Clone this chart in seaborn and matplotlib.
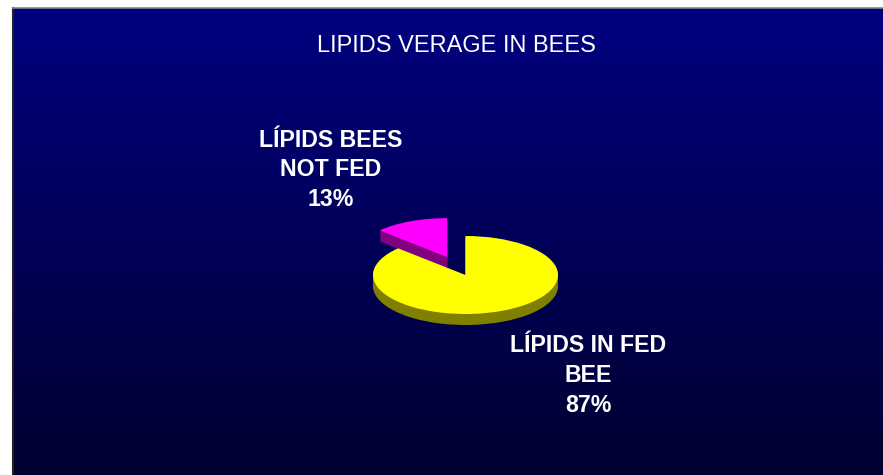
import numpy as np
import seaborn as sns
from matplotlib import pyplot as plt

sns.set_style("white")
plt.rcParams['font.family'] = ['Liberation Sans', 'DejaVu Sans']

W, H = 883, 475

title = "LIPIDS VERAGE IN BEES"
labels = ["LÍPIDS IN FED\nBEE", "LÍPIDS BEES\nNOT FED"]
values = [87, 13]
explode = [0, 0.5]
top_colors = ["#FFFF00", "#FF00FF"]
side_colors = ["#808000", "#800080"]

# pie geometry in pixels
cx, cy = 465.5, 275
rx, ry = 92.5, 39
depth = 11

fig = plt.figure(figsize=(W / 100, H / 100), dpi=100, facecolor="white")

# gradient panel
bg = fig.add_axes([13 / W, 0, (W - 13) / W, (H - 8) / H])
cmap = sns.blend_palette(["#000080", "#000030"], as_cmap=True)
bg.imshow(np.linspace(0, 1, 256).reshape(-1, 1), aspect="auto", cmap=cmap)
bg.set_xticks([])
bg.set_yticks([])
bg.spines["right"].set_visible(False)
bg.spines["bottom"].set_visible(False)
bg.spines["left"].set_color("#222222")
bg.spines["top"].set_color("#888888")
bg.spines["left"].set_linewidth(1.5)
bg.spines["top"].set_linewidth(1.2)

# pie axes: one data unit is rx across and ry down, so circles come out flat
ax = fig.add_axes([0, 0, 1, 1])
ax.patch.set_alpha(0)


def draw_layer(y_px, colors):
    ax.pie(values, explode=explode, colors=colors, startangle=90, counterclock=False,
           center=(cx / rx, (H - y_px) / ry), radius=1, wedgeprops={"linewidth": 0}, frame=True)


for d in range(depth, 0, -1):
    draw_layer(cy + d, side_colors)
draw_layer(cy, top_colors)

ax.set_aspect("auto")
ax.set_xlim(0, W / rx)
ax.set_ylim(0, H / ry)
ax.axis("off")

fig.text(456.5 / W, 1 - 46.5 / H, title, color="white", fontsize=17, ha="center", va="center")

total = sum(values)
text_pos = [(588, 375.5), (331, 170)]
for label, value, (tx, ty) in zip(labels, values, text_pos):
    fig.text(tx / W, 1 - ty / H, f"{label}\n{value / total:.0%}", color="white", fontsize=16.7,
             fontweight="bold", ha="center", va="center", linespacing=1.38)

fig.savefig("out.png", dpi=100)
